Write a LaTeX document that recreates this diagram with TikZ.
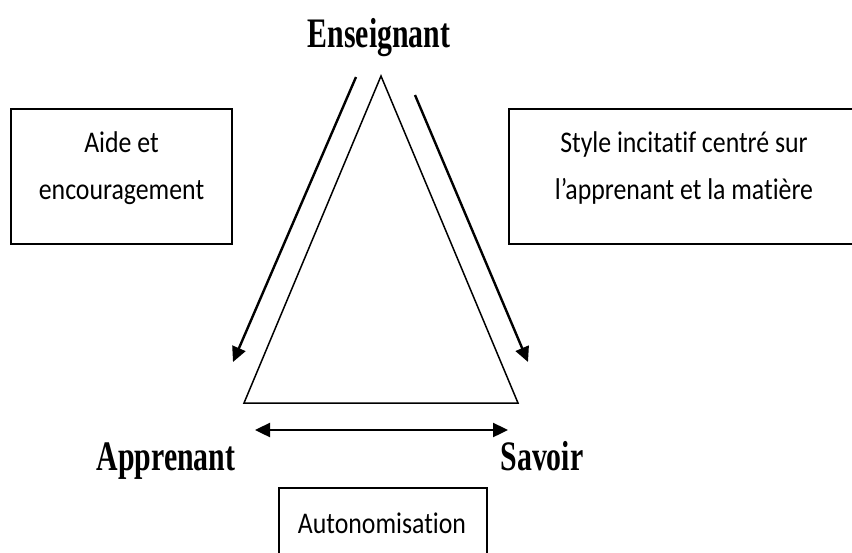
\documentclass[tikz,border=0pt]{standalone}
\usepackage{fontspec}
\usetikzlibrary{arrows.meta}
\newfontfamily\titrefont[FakeStretch=0.71]{Liberation Serif}
\newfontfamily\boitefont[FakeStretch=0.86, Ligatures=CommonOff]{Carlito}

\begin{document}
\begin{tikzpicture}[x=1pt,y=-1pt,
        pole/.style={font=\titrefont\bfseries\fontsize{42}{42}\selectfont, inner sep=0pt, anchor=base},
        cadre/.style={draw, line width=1.8pt, inner sep=0pt},
        texte/.style={font=\boitefont\fontsize{30}{47}\selectfont, align=center, inner sep=0pt},
        fleche/.style={line width=2.4pt, -{Triangle[length=15pt,width=14pt]}}]
    \useasboundingbox (0,0) rectangle (852,552);
    % triangle
    \coordinate (sommet) at (381,76);
    \coordinate (gauche) at (244,403);
    \coordinate (droite) at (518,403);
    \draw[line width=1.5pt, line join=miter] (sommet) -- (gauche) -- (droite) -- cycle;
    % poles
    \node[pole] (enseignant) at (379,47) {Enseignant};
    \node[pole] (apprenant) at (166,470) {Apprenant};
    \node[pole] (savoir) at (542,470) {Savoir};
    % fleches
    \coordinate (g1) at (356,77);
    \coordinate (g2) at (233,362);
    \coordinate (d1) at (415,95);
    \coordinate (d2) at (528,362);
    \coordinate (h1) at (255,430);
    \coordinate (h2) at (508,430);
    \draw[fleche] (g1) -- (g2);
    \draw[fleche] (d1) -- (d2);
    \draw[fleche, {Triangle[length=15pt,width=14pt]}-{Triangle[length=15pt,width=14pt]}] (h1) -- (h2);
    % cadres
    \node[cadre, minimum width=221pt, minimum height=135pt] (aide) at (121.5,176.5) {};
    \node[texte] (aidetxt) at (121.5,168) {Aide et\\encouragement};
    \node[cadre, minimum width=360pt, minimum height=135pt] (style) at (689,176.5) {};
    \node[texte] (styletxt) at (684,168) {Style incitatif centré sur\\l’apprenant et la matière};
    \node[cadre, minimum width=208pt, minimum height=80pt] (autonomie) at (383,528) {};
    \node[texte, anchor=base] (autotxt) at (382,533) {Autonomisation};
\end{tikzpicture}
\end{document}
